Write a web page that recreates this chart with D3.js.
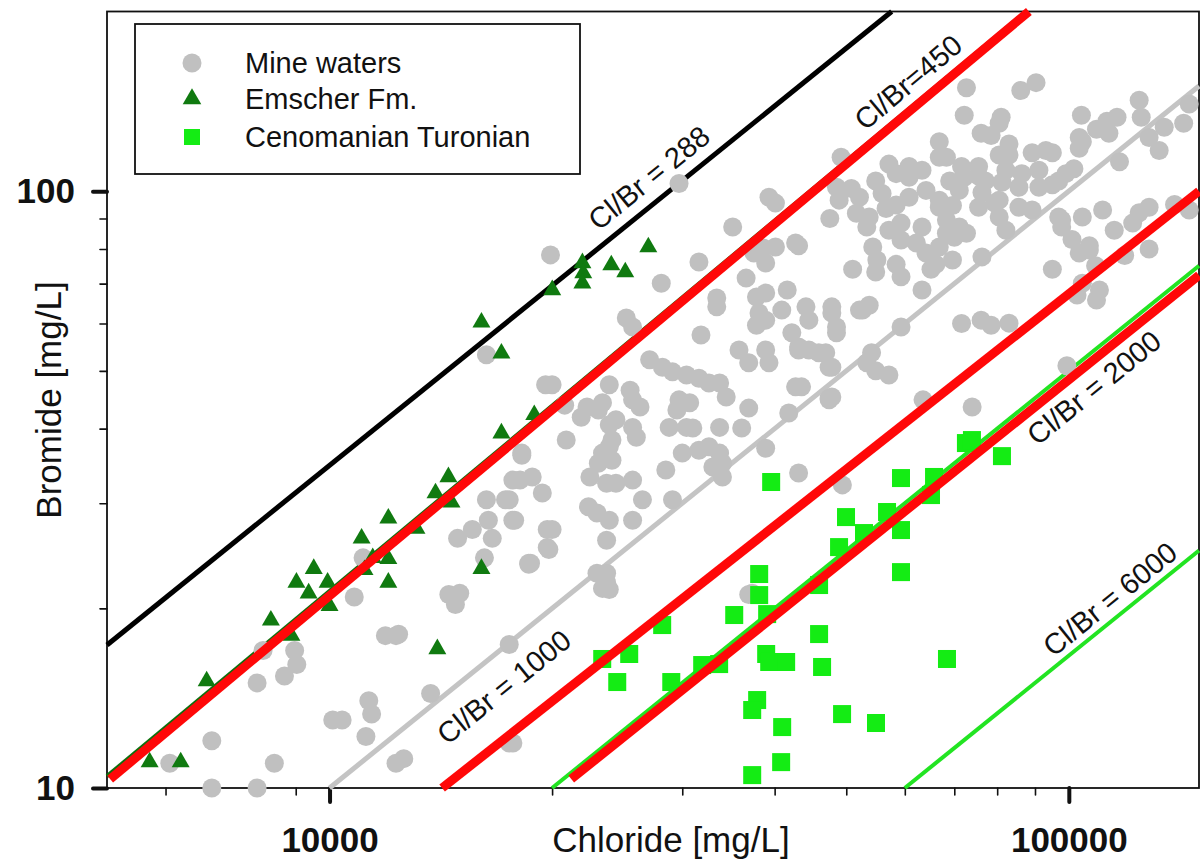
<!DOCTYPE html>
<html>
<head>
<meta charset="utf-8">
<script src="https://cdn.jsdelivr.net/npm/d3@7.9.0/dist/d3.min.js"></script>
<style>
  body { margin: 0; background: #fff; }
  svg { display: block; font-family: "Liberation Sans", Arial, sans-serif; }
</style>
</head>
<body>
<div id="chart"></div>
<script>
// ---- data: [chloride mg/L, bromide mg/L] ----
const mineWaters = [
  [6080,11.0],[6930,12.0],[8420,11.0],[6930,10.0],[7980,10.0],[7980,15.0],[8690,15.4],[9030,16.1],[8970,17.0],[8130,17.0],
  [10800,20.9],[11900,18.0],[12300,18.0],[11300,14.0],[11400,13.3],[10100,13.0],[10400,13.0],[11200,12.2],[12300,11.0],
  [12400,18.1],[12600,11.2],[14500,21.1],[15000,21.2],[14800,20.3],[17500,17.4],[13700,14.4],[17500,11.9],[17700,11.9],
  [23400,21.6],[23700,22.9],[18600,23.7],[36900,21.1],
  [16300,53.2],[19600,47.4],[18200,36.1],[17700,32.8],[18800,33.2],[19400,31.2],[16300,30.4],[17300,30.4],[17700,28.1],
  [16400,28.1],[15600,27.1],[14900,26.2],[16600,26.2],[16200,24.3],[18700,23.8],[19700,27.1],[19700,25.3],[11100,24.3],
  [33400,64.0],[38100,62.5],[38900,60.8],[37800,59.6],[40900,63.2],[44100,64.0],[47800,62.5],[48500,59.2],[52600,63.2],[53700,64.4],
  [25200,61.3],[25700,59.2],[31800,57.4],[35800,54.2],[36900,51.6],[38900,54.2],[39300,51.6],[42200,57.9],[43100,54.8],
  [44500,54.2],[46900,53.6],[47400,50.7],
  [27100,52.2],[28200,50.7],[29100,49.8],[30400,49.2],[31600,48.6],[32600,47.7],[33700,47.7],[34400,45.2],[42700,47.0],
  [47800,45.2],[47400,44.7],
  [20000,47.4],[20800,43.8],[23900,47.4],[25500,46.4],[25700,44.7],[26300,43.5],[23400,44.2],[22300,43.5],[21900,41.8],
  [23100,43.0],[29700,44.7],[30700,44.2],[29500,43.0],[36900,43.3],[41800,42.5],
  [23900,40.6],[24400,41.4],[25700,40.2],[26000,38.7],[28800,40.2],[30400,40.2],[31000,40.1],[33700,40.2],[36100,40.1],
  [20900,38.3],[24100,38.3],[23900,37.3],
  [18200,36.4],[23400,36.4],[24100,35.4],[23100,35.0],[30000,36.4],[31600,36.8],[32600,37.3],[33700,36.4],[34000,35.0],
  [33000,34.5],[38900,37.1],
  [18100,32.8],[22500,33.2],[23700,32.4],[24400,32.4],[25700,32.8],[28500,34.1],[34000,33.2],[43100,33.7],
  [17500,30.4],[22400,29.6],[23000,28.9],[23900,28.1],[26500,30.4],[17800,28.1],[20000,27.1],[19800,25.1],[18600,23.8],
  [23700,26.0],[25700,28.1],[29100,30.4],
  [23000,22.9],[23700,22.1],[23900,21.5],[37300,21.2],
  [19900,78.2],[29700,103],[35100,87.1],[39300,97.7],[40100,95.5],[31600,76.1],[37500,78.8],[38600,80.3],[40100,80.6],
  [38900,75.8],[28100,70.1],[36600,71.5],[41600,68.3],[42700,81.9],[33400,66.2],[37800,66.5],[38900,67.5],
  [72700,149],[86100,147.5],[90300,152],[124500,142],[145500,140],[72200,134],[81000,133],[104000,134],[112600,131],
  [116200,133],[125300,133],[80500,130],[76100,125],[78500,124],[66800,121],[83000,120],[103300,123],[109000,127],
  [113300,125],[128400,123],
  [49200,114],[57100,111],[60800,110],[66800,114],[68300,114],[71600,110],[75500,110],[80500,115],[83000,115],[89200,116],
  [93100,117],[95000,116],[103300,118],[104300,121],
  [48500,101.5],[50800,101],[54800,104],[58400,107],[60800,105.5],[63300,108.4],[69000,104],[72200,105.5],[75500,106],
  [77100,104],[81200,103.5],[82200,108.4],[86400,107],[91100,108.4],[99100,107],[101600,109],[96900,104],
  [48900,96.6],[52100,97.7],[55900,99.1],[60800,97.7],[64100,100.3],[66800,96.6],[71100,100.3],[76300,99.5],[80500,96.6],
  [85600,101.5],[91100,101.5],[95000,102.5],
  [47500,90],[51600,91.8],[53700,90.5],[56600,93.5],[58400,94.8],[66800,94],[69600,94.6],[75500,94],[79400,95.5],
  [85600,94],[89200,93],
  [53300,87.1],[57100,86],[59300,88.4],[63300,87.1],[68300,89.5],[71100,87.1],[80500,90.5],[82200,86],[96900,90.5],[97800,87.1],
  [54300,80.6],[59300,82.8],[62200,81.9],[64100,78.8],[66800,80.6],[68300,85],[70000,83.7],[72700,85],
  [55000,76.7],[58400,75.4],[66100,75.4],[69600,76.7],[76300,77.6],[51000,74],[54800,73.2],[59300,71.9],[63300,68.3],[65100,74],
  [97800,89.5],[104300,90.5],[111100,93],[128400,94],[95000,74],[101000,83],[103300,78.8],[106600,79.7],[104300,70.1],
  [110000,68.3],[124500,92],[122000,88.4],[43100,81],
  [71600,60],[76100,60.8],[78500,59.6],[83000,60.1],[99400,51],[63500,44.7],[74000,43.5],[49400,32.2],[109000,65.7],
  [47800,64],[52100,63.2],[44500,60.8],[48500,57.9],[43100,54.2],[45900,53.6],[47800,50.7],[53300,51.6],[54800,50],
  [57100,49.2],[43500,47],[47400,45],[59300,59.2],[54100,53.6],
  [134600,128],[143000,130],[132500,117],[117100,112],[139000,95],[145500,93],[115200,86],[106600,81],[128400,80],
  [119000,78],[108700,75],[102600,67]
];

const emscherFm = [
  [5710,11.05],[6290,11.05],[6820,15.1],[8330,19.1],[8880,18.0],[9020,22.1],[9520,23.3],[9370,21.2],[9940,22.1],
  [10000,20.2],[11050,26.2],[11440,24.3],[11150,23.2],[12010,28.3],[12010,24.2],[12010,22.1],[13110,27.2],[13910,31.2],
  [14480,33.2],[14620,30.1],[13990,17.1],[16050,23.3],[17080,39.3],[18920,42.2],[16050,60.3],[17080,53.5],[20010,68.3],
  [21980,75.8],[22040,72.9],[21980,70.1],[24050,75.2],[25120,73.2],[26990,80.6]
];

const cenomanianTuronian = [
  [23380,16.45],[24500,15.05],[25430,16.77],[28180,18.75],[28990,15.05],[31920,16.07],[33650,16.13],[35270,19.49],
  [38120,22.83],[38120,21.05],[39080,19.56],[38960,16.77],[39330,16.26],[41460,16.26],[37880,14.04],[37300,13.51],
  [40950,12.65],[40820,11.05],[37300,10.51],[39570,32.56],[45940,21.88],[45940,18.11],[46370,15.95],[49350,13.30],
  [54850,12.85],[49960,28.44],[48890,25.33],[52840,26.74],[56770,29.0],[59290,33.06],[59290,27.05],[59290,23.0],
  [65100,30.96],[65720,33.2],[68420,16.45],[72580,37.84],[73950,38.28],[81200,35.98]
];

// reference ratio lines, endpoints in [Cl, Br]
const baseLines = [
  { id: "288",   from: [5000, 17.36],  to: [57600, 200] },
  { id: "trend", from: [5000, 10.47],  to: [87500, 200] },
  { id: "1000",  from: [10000, 10],    to: [150000, 150] },
  { id: "2000",  from: [20000, 10],    to: [150000, 75] },
  { id: "6000",  from: [60000, 10],    to: [150000, 25] }
];
const redLines = [
  { id: "450",  from: [5050, 10.35],  to: [88300, 200] },
  { id: "1450", from: [14200, 10],    to: [150000, 100] },
  { id: "2000r", from: [21230, 10.35], to: [150000, 72.3] }
];

const xMajor = [10000, 100000];
const xMinor = [6000, 7000, 8000, 9000, 20000, 30000, 40000, 50000, 60000, 70000, 80000, 90000];
const yMajor = [10, 100];
const yMinor = [20, 30, 40, 50, 60, 70, 80, 90];

const legendItems = ["Mine waters", "Emscher Fm.", "Cenomanian Turonian"];

// ---- layout / style ----
const width = 1200, height = 862;
const lineStyle = {
  "288":   { stroke: "#000000", width: 5 },
  "trend": { stroke: "#0d6f0d", width: 4 },
  "1000":  { stroke: "#c4c4c4", width: 5 },
  "2000":  { stroke: "#22e422", width: 4 },
  "6000":  { stroke: "#22e422", width: 4 }
};
const grey = "#c0c0c0", darkGreen = "#107a10", lime = "#14ec14", red = "#ff0808";

const svg = d3.select("#chart").append("svg")
  .attr("width", width).attr("height", height)
  .attr("viewBox", `0 0 ${width} ${height}`);

const x = d3.scaleLog().domain([5000, 150000]).range([107, 1199]);
const y = d3.scaleLog().domain([10, 200]).range([788, 11.5]);

// plot frame
svg.append("rect")
  .attr("x", x.range()[0]).attr("y", y.range()[1])
  .attr("width", x.range()[1] - x.range()[0])
  .attr("height", y.range()[0] - y.range()[1])
  .attr("fill", "none").attr("stroke", "#111").attr("stroke-width", 1.8);

// axes: minor then major ticks
function styleAxis(g, w) {
  g.select(".domain").remove();
  g.selectAll(".tick line").attr("stroke", "#111").attr("stroke-width", w).attr("stroke-linecap", "round");
}
svg.append("g").attr("transform", `translate(0,${y.range()[0]})`)
  .call(d3.axisBottom(x).tickValues(xMinor).tickSize(7).tickFormat(""))
  .call(g => styleAxis(g, 1.6));
svg.append("g").attr("transform", `translate(0,${y.range()[0]})`)
  .call(d3.axisBottom(x).tickValues(xMajor).tickSize(14).tickPadding(25).tickFormat(d3.format("d")))
  .call(g => styleAxis(g, 4))
  .call(g => g.selectAll("text").attr("fill", "#111").attr("font-size", 35).attr("font-weight", "bold")
    .attr("font-family", "Liberation Sans, Arial, sans-serif"));

svg.append("g").attr("transform", `translate(${x.range()[0]},0)`)
  .call(d3.axisLeft(y).tickValues(yMinor).tickSize(7).tickFormat(""))
  .call(g => styleAxis(g, 1.6));
svg.append("g").attr("transform", `translate(${x.range()[0]},0)`)
  .call(d3.axisLeft(y).tickValues(yMajor).tickSize(14).tickPadding(18).tickFormat(d3.format("d")))
  .call(g => styleAxis(g, 4))
  .call(g => g.selectAll("text").attr("fill", "#111").attr("font-size", 35).attr("font-weight", "bold")
    .attr("font-family", "Liberation Sans, Arial, sans-serif"));

// axis titles
svg.append("text").attr("x", 671).attr("y", 852).attr("text-anchor", "middle")
  .attr("font-size", 35).attr("fill", "#111").text("Chloride [mg/L]");
svg.append("text").attr("transform", "translate(61,400) rotate(-90)").attr("text-anchor", "middle")
  .attr("font-size", 35).attr("fill", "#111").text("Bromide [mg/L]");

const seg = d => [[x(d.from[0]), y(d.from[1])], [x(d.to[0]), y(d.to[1])]];

// original ratio lines
svg.append("g").selectAll("line").data(baseLines).join("line")
  .attr("x1", d => seg(d)[0][0]).attr("y1", d => seg(d)[0][1])
  .attr("x2", d => seg(d)[1][0]).attr("y2", d => seg(d)[1][1])
  .attr("stroke", d => lineStyle[d.id].stroke)
  .attr("stroke-width", d => lineStyle[d.id].width);

// points
svg.append("g").selectAll("circle").data(mineWaters).join("circle")
  .attr("cx", d => x(d[0])).attr("cy", d => y(d[1])).attr("r", 9.5).attr("fill", grey);

const tri = d3.symbol().type(d3.symbolTriangle).size(140);
svg.append("g").selectAll("path").data(emscherFm).join("path")
  .attr("transform", d => `translate(${x(d[0])},${y(d[1])})`)
  .attr("d", tri).attr("fill", darkGreen);

svg.append("g").selectAll("rect").data(cenomanianTuronian).join("rect")
  .attr("x", d => x(d[0]) - 9).attr("y", d => y(d[1]) - 9)
  .attr("width", 18).attr("height", 18).attr("fill", lime);

// red overlay lines
svg.append("g").selectAll("line").data(redLines).join("line")
  .attr("x1", d => seg(d)[0][0]).attr("y1", d => seg(d)[0][1])
  .attr("x2", d => seg(d)[1][0]).attr("y2", d => seg(d)[1][1])
  .attr("stroke", red).attr("stroke-width", 9);

// line labels: position along line (Cl value) and perpendicular offset in px
const allLines = baseLines.concat(redLines);
const lineLabels = [
  { line: "288",  text: "Cl/Br = 288",  at: 28300,  offset: -23 },
  { line: "450",  text: "Cl/Br=450",    at: 63500,  offset: -23 },
  { line: "1000", text: "Cl/Br = 1000", at: 16200,  offset: 31 },
  { line: "2000", text: "Cl/Br = 2000", at: 102200, offset: 29 },
  { line: "6000", text: "Cl/Br = 6000", at: 117800, offset: -18 }
];
svg.append("g").selectAll("text").data(lineLabels).join("text")
  .attr("transform", d => {
    const l = allLines.find(e => e.id === d.line);
    const [p0, p1] = seg(l);
    const t = (Math.log(d.at) - Math.log(l.from[0])) / (Math.log(l.to[0]) - Math.log(l.from[0]));
    const br = Math.exp(Math.log(l.from[1]) + t * (Math.log(l.to[1]) - Math.log(l.from[1])));
    const ang = Math.atan2(p1[1] - p0[1], p1[0] - p0[0]) * 180 / Math.PI;
    return `translate(${x(d.at)},${y(br)}) rotate(${ang})`;
  })
  .attr("y", d => d.offset)
  .attr("dominant-baseline", "central")
  .attr("text-anchor", "middle")
  .attr("font-size", 29).attr("fill", "#111")
  .text(d => d.text);

// legend
const legend = svg.append("g");
legend.append("rect").attr("x", 135).attr("y", 24).attr("width", 445).attr("height", 150)
  .attr("fill", "#fff").attr("stroke", "#111").attr("stroke-width", 1.8);
const rows = legend.selectAll("g").data(legendItems).join("g")
  .attr("transform", (d, i) => `translate(192,${[63, 99, 137][i]})`);
rows.filter((d, i) => i === 0).append("circle").attr("r", 9.5).attr("fill", grey);
rows.filter((d, i) => i === 1).append("path").attr("d", d3.symbol().type(d3.symbolTriangle).size(150)).attr("fill", darkGreen);
rows.filter((d, i) => i === 2).append("rect").attr("x", -8).attr("y", -8).attr("width", 16).attr("height", 16).attr("fill", lime);
rows.append("text").attr("x", 53).attr("y", 10).attr("font-size", 29).attr("fill", "#111").text(d => d);
</script>
</body>
</html>
